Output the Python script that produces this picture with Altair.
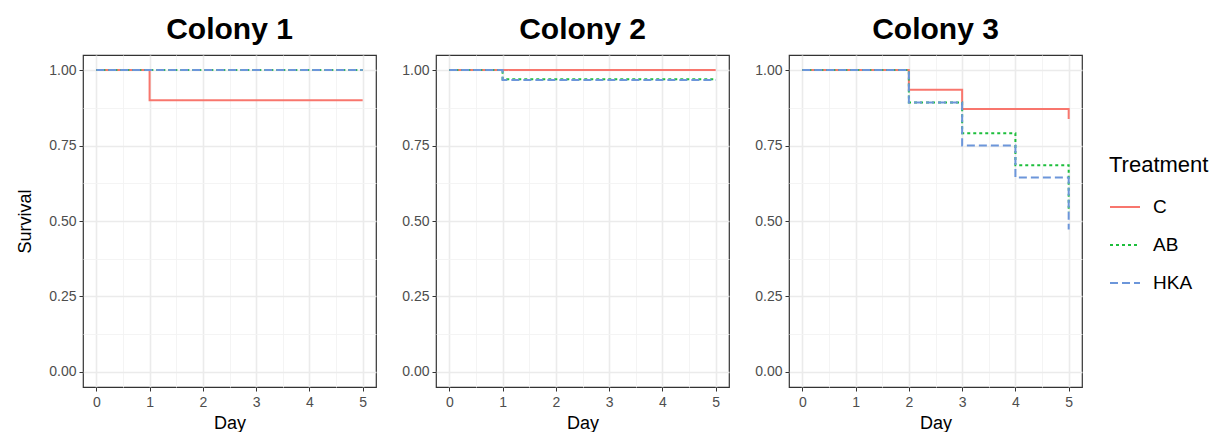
import altair as alt
import pandas as pd

# ---- data ----
treatments = ["C", "AB", "HKA"]
colors = ["#F8766D", "#1DBE3C", "#6C96DA"]

c1_C_day = [0, 1, 5]
c1_C_surv = [1.0, 0.9, 0.9]
c1_AB_day = [0, 5]
c1_AB_surv = [1.0, 1.0]
c1_HKA_day = [0, 5]
c1_HKA_surv = [1.0, 1.0]

c2_C_day = [0, 5]
c2_C_surv = [1.0, 1.0]
c2_AB_day = [0, 1, 5]
c2_AB_surv = [1.0, 0.97, 0.97]
c2_HKA_day = [0, 1, 5]
c2_HKA_surv = [1.0, 0.967, 0.967]

c3_C_day = [0, 2, 3, 5, 5]
c3_C_surv = [1.0, 0.935, 0.871, 0.871, 0.838]
c3_AB_day = [0, 2, 3, 4, 5, 5]
c3_AB_surv = [1.0, 0.893, 0.791, 0.685, 0.685, 0.53]
c3_HKA_day = [0, 2, 3, 4, 5, 5]
c3_HKA_surv = [1.0, 0.893, 0.75, 0.644, 0.644, 0.472]

series = {
    (1, "C"): (c1_C_day, c1_C_surv),
    (1, "AB"): (c1_AB_day, c1_AB_surv),
    (1, "HKA"): (c1_HKA_day, c1_HKA_surv),
    (2, "C"): (c2_C_day, c2_C_surv),
    (2, "AB"): (c2_AB_day, c2_AB_surv),
    (2, "HKA"): (c2_HKA_day, c2_HKA_surv),
    (3, "C"): (c3_C_day, c3_C_surv),
    (3, "AB"): (c3_AB_day, c3_AB_surv),
    (3, "HKA"): (c3_HKA_day, c3_HKA_surv),
}

rows = []
for (col, tr), (days, surv) in series.items():
    for i, (d, s) in enumerate(zip(days, surv)):
        rows.append({"colony": col, "treatment": tr, "day": d, "survival": s, "idx": i})
df = pd.DataFrame(rows)

x_values = [v / 2 for v in range(0, 11)]
y_values = [v / 8 for v in range(0, 9)]

FONT = "Liberation Sans"
MAJOR_GRID = "#EBEBEB"
MINOR_GRID = "#F3F3F3"

def x_axis():
    return alt.Axis(
        values=x_values,
        labelExpr="datum.value % 1 == 0 ? format(datum.value, 'd') : ''",
        gridColor={"condition": {"test": "datum.value % 1 == 0", "value": MAJOR_GRID}, "value": MINOR_GRID},
        gridWidth={"condition": {"test": "datum.value % 1 == 0", "value": 1.6}, "value": 0.9},
        tickOpacity={"condition": {"test": "datum.value % 1 == 0", "value": 1}, "value": 0},
        domain=False, tickColor="#333333", tickSize=4, tickWidth=1,
        labelColor="#4D4D4D", labelFontSize=14, labelFont=FONT, labelPadding=4,
        title="Day", titleFont=FONT, titleFontSize=18, titleFontWeight="normal",
        titleColor="#000000", titlePadding=5,
    )

MAJ_Y = "abs(datum.value*4 - round(datum.value*4)) < 0.001"

def y_axis(title):
    kw = dict(
        values=y_values,
        labelExpr=f"{MAJ_Y} ? format(datum.value, '.2f') : ''",
        gridColor={"condition": {"test": MAJ_Y, "value": MAJOR_GRID}, "value": MINOR_GRID},
        gridWidth={"condition": {"test": MAJ_Y, "value": 1.6}, "value": 0.9},
        tickOpacity={"condition": {"test": MAJ_Y, "value": 1}, "value": 0},
        domain=False, tickColor="#333333", tickSize=4, tickWidth=1,
        labelColor="#4D4D4D", labelFontSize=14, labelFont=FONT, labelPadding=3,
        titleFont=FONT, titleFontSize=18, titleFontWeight="normal",
        titleColor="#000000", titlePadding=14,
    )
    kw["title"] = title if title else None
    return alt.Axis(**kw)

legend = alt.Legend(
    title="Treatment", titleFont=FONT, titleFontSize=22, titleFontWeight="normal",
    titleColor="#000000", titlePadding=14,
    labelFont=FONT, labelFontSize=19, labelColor="#000000", labelOffset=12,
    symbolType="stroke", symbolSize=900, symbolStrokeWidth=2, rowPadding=12,
    orient="none", legendX=1026, legendY=100,
)

def panel(colony, ytitle):
    base = alt.Chart(df).transform_filter(alt.datum.colony == colony)
    layers = []
    for tr in treatments:
        layers.append(
            base.transform_filter(alt.datum.treatment == tr)
            .mark_line(interpolate="step-after", strokeWidth=2)
            .encode(
                x=alt.X("day:Q", scale=alt.Scale(domain=[-0.25, 5.25], nice=False, zero=False), axis=x_axis()),
                y=alt.Y("survival:Q", scale=alt.Scale(domain=[-0.05, 1.05], nice=False, zero=False), axis=y_axis(ytitle)),
                color=alt.Color("treatment:N", scale=alt.Scale(domain=treatments, range=colors), legend=legend),
                strokeDash=alt.StrokeDash("treatment:N", scale=alt.Scale(domain=treatments, range=[[1, 0], [3, 3], [8, 4]]), legend=legend),
                order=alt.Order("idx:Q"),
            )
        )
    return alt.layer(*layers).properties(
        width=293, height=332,
        title=alt.Title(f"Colony {colony}", font=FONT, fontSize=30, fontWeight="bold",
                        color="#000000", anchor="middle", offset=10),
    )

chart = alt.hconcat(panel(1, "Survival"), panel(2, None), panel(3, None), spacing=24).properties(
    padding={"left": 16, "top": 14, "right": 0, "bottom": 0},
    background="#FFFFFF",
).configure_view(stroke="#333333", strokeWidth=1.2)

chart.save("out.html", embed_options={"renderer": "svg", "actions": False})
